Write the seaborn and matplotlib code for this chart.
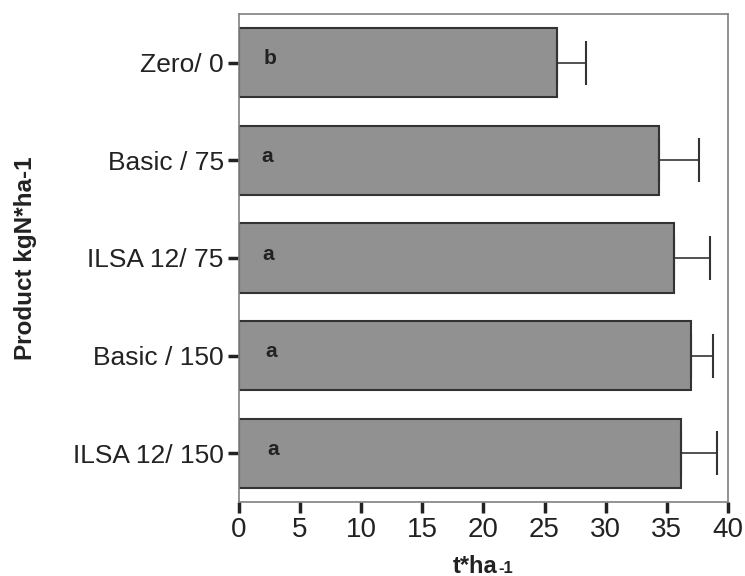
import pandas as pd
import matplotlib
matplotlib.use("Agg")
import matplotlib.pyplot as plt
import seaborn as sns

# =========================
# DATA
# =========================
treatments = ["Zero/ 0", "Basic / 75", "ILSA 12/ 75", "Basic / 150", "ILSA 12/ 150"]
yield_mean = [26.0, 34.4, 35.6, 37.0, 36.2]
yield_err = [2.4, 3.2, 2.9, 1.8, 2.9]
letters = ["b", "a", "a", "a", "a"]
letter_x = [2.5, 2.3, 2.4, 2.6, 2.8]

df = pd.DataFrame({"Treatment": treatments, "Yield": yield_mean})

# =========================
# STYLE
# =========================
sns.set_style("white")
plt.rcParams["font.family"] = ["Liberation Sans", "DejaVu Sans"]

fig = plt.figure(figsize=(7.45, 5.76), dpi=100)
ax = fig.add_axes([0.3208, 0.1285, 0.6562, 0.8472])

# =========================
# BARS + ERROR BARS
# =========================
sns.barplot(data=df, x="Yield", y="Treatment", orient="h", color="#919191",
            edgecolor="#333333", linewidth=1.5, width=0.71, saturation=1,
            errorbar=None, ax=ax)

ax.errorbar(yield_mean, range(len(treatments)),
            xerr=[[0] * len(yield_err), yield_err],
            fmt="none", ecolor="#333333", elinewidth=1.2, capsize=16, capthick=1.5)

for i, (lx, lab) in enumerate(zip(letter_x, letters)):
    ax.text(lx, i - 0.04, lab, fontsize=15, fontweight="bold", color="#222222",
            ha="center", va="center")

# =========================
# AXES
# =========================
ax.set_xlim(0, 40)
ax.set_ylim(4.5, -0.5)
ax.set_xticks(range(0, 41, 5))
ax.tick_params(axis="both", labelsize=20, direction="out", length=8, width=2.5,
               color="#222222", labelcolor="#222222", bottom=True, left=True, pad=3)
ax.tick_params(axis="y", labelsize=19)
for s in ax.spines.values():
    s.set_color("#808080")
    s.set_linewidth(1.2)

ax.set_xlabel("")
ax.set_ylabel("Product kgN*ha-1", fontsize=17.5, fontweight="bold", color="#222222")
ax.yaxis.set_label_coords(-0.413, 0.5)

# x label: "t*ha" with a smaller "-1"
fig.text(0.668, 0.006, "t*ha", fontsize=17, fontweight="bold", color="#222222",
         ha="right", va="baseline")
fig.text(0.669, 0.006, "-1", fontsize=12, fontweight="bold", color="#222222",
         ha="left", va="baseline")

plt.savefig("out.png", dpi=100)
